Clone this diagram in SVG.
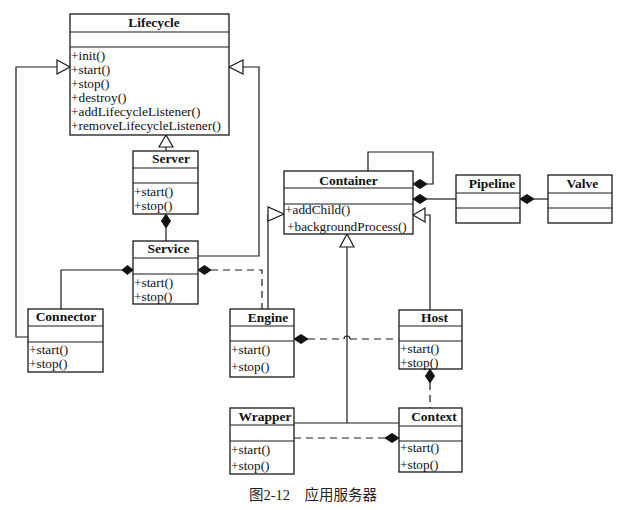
<svg xmlns="http://www.w3.org/2000/svg" width="628" height="510" viewBox="0 0 628 510">
<style>
.box{fill:#fff;stroke:#1a1a1a;stroke-width:1.3}
.ln{fill:none;stroke:#1a1a1a;stroke-width:1.2}
.ds{fill:none;stroke:#1a1a1a;stroke-width:1.2;stroke-dasharray:7 5}
.tri{fill:#fff;stroke:#1a1a1a;stroke-width:1.2}
.dia{fill:#111;stroke:#111;stroke-width:1}
.t{font-family:"Liberation Serif","Times New Roman",serif;font-size:13.5px;font-weight:bold;fill:#111;text-anchor:middle}
.m{font-family:"Liberation Serif","Times New Roman",serif;font-size:13.3px;fill:#111}
.cap{font-family:"Liberation Serif","Noto Sans CJK SC",serif;font-size:14.5px;fill:#222}
</style>
<rect width="628" height="510" fill="#fff"/>
<g id="connectors">
  <!-- Connector -> Lifecycle -->
  <polyline class="ln" points="28,337 16,337 16,67 57,67"/>
  <polygon class="tri" points="70,67 57,60 57,74"/>
  <!-- Service -> Lifecycle -->
  <polyline class="ln" points="198,256 259,256 259,67 243,67"/>
  <polygon class="tri" points="229,67 243,60 243,74"/>
  <!-- Server -> Lifecycle -->
  <line class="ln" x1="166" y1="147" x2="166" y2="151"/>
  <polygon class="tri" points="166,135 159,147 173,147"/>
  <!-- Server <>- Service -->
  <line class="ln" x1="166" y1="228" x2="166" y2="241"/>
  <polygon class="dia" points="166,214 170.5,221 166,228 161.5,221"/>
  <!-- Service <>- Connector -->
  <polyline class="ln" points="122,270 61,270 61,309"/>
  <polygon class="dia" points="133,270 127.5,265.5 122,270 127.5,274.5"/>
  <!-- Service <>- - Engine -->
  <polyline class="ds" points="211,270 262,270 262,309"/>
  <polygon class="dia" points="198,270 204.5,265.5 211,270 204.5,274.5"/>
  <!-- Engine -> Container -->
  <line class="ln" x1="268" y1="214" x2="268" y2="309"/>
  <polygon class="tri" points="284,214 268,207 268,221"/>
  <!-- Host -> Container -->
  <polyline class="ln" points="425,215 430,215 430,310"/>
  <polygon class="tri" points="413,215 425,208 425,222"/>
  <!-- Wrapper/Context -> Container -->
  <line class="ln" x1="347" y1="247" x2="347" y2="423"/>
  <line class="ln" x1="294" y1="423" x2="399" y2="423"/>
  <polygon class="tri" points="347,234 340,247 354,247"/>
  <!-- Container self loop -->
  <polyline class="ln" points="368,171 368,152 433,152 433,184 427,184"/>
  <polygon class="dia" points="413,184 420,179.5 427,184 420,188.5"/>
  <!-- Container <>- Pipeline -->
  <line class="ln" x1="427" y1="199" x2="456" y2="199"/>
  <polygon class="dia" points="413,199 420,194.5 427,199 420,203.5"/>
  <!-- Pipeline <>- Valve -->
  <line class="ln" x1="534" y1="199" x2="548" y2="199"/>
  <polygon class="dia" points="520,199 527,194.5 534,199 527,203.5"/>
  <!-- Engine <>- - Host -->
  <path class="ds" d="M308,339 H344"/>
  <path class="ln" d="M344,339 A3,3 0 0 1 350,339"/>
  <path class="ds" d="M350,339 H399"/>
  <polygon class="dia" points="294,339 301,334.5 308,339 301,343.5"/>
  <!-- Host <>- - Context -->
  <line class="ds" x1="430" y1="383" x2="430" y2="408"/>
  <polygon class="dia" points="430,369 434.5,376 430,383 425.5,376"/>
  <!-- Context <>- - Wrapper -->
  <line class="ds" x1="294" y1="438" x2="385" y2="438"/>
  <polygon class="dia" points="399,438 392,433.5 385,438 392,442.5"/>
</g>
<g id="Lifecycle">
  <rect class="box" x="70" y="14" width="159" height="121"/>
  <line class="ln" x1="70" y1="32" x2="229" y2="32"/>
  <line class="ln" x1="70" y1="47" x2="229" y2="47"/>
  <text class="t" x="154" y="27">Lifecycle</text>
  <text class="m" x="71" y="59.5">+init()</text>
  <text class="m" x="71" y="73.5">+start()</text>
  <text class="m" x="71" y="87.5">+stop()</text>
  <text class="m" x="71" y="101.5">+destroy()</text>
  <text class="m" x="71" y="115.5">+addLifecycleListener()</text>
  <text class="m" x="71" y="129.5">+removeLifecycleListener()</text>
</g>
<g id="Server">
  <rect class="box" x="133" y="151" width="65" height="63"/>
  <line class="ln" x1="133" y1="168" x2="198" y2="168"/>
  <line class="ln" x1="133" y1="183" x2="198" y2="183"/>
  <text class="t" x="171" y="163">Server</text>
  <text class="m" x="134" y="195.5">+start()</text>
  <text class="m" x="134" y="209.5">+stop()</text>
</g>
<g id="Service">
  <rect class="box" x="133" y="241" width="65" height="63"/>
  <line class="ln" x1="133" y1="258" x2="198" y2="258"/>
  <line class="ln" x1="133" y1="274" x2="198" y2="274"/>
  <text class="t" x="168.5" y="253">Service</text>
  <text class="m" x="134" y="286.5">+start()</text>
  <text class="m" x="134" y="300.5">+stop()</text>
</g>
<g id="Connector">
  <rect class="box" x="28" y="309" width="75" height="63"/>
  <line class="ln" x1="28" y1="326" x2="103" y2="326"/>
  <line class="ln" x1="28" y1="342" x2="103" y2="342"/>
  <text class="t" x="66" y="321">Connector</text>
  <text class="m" x="29" y="354">+start()</text>
  <text class="m" x="29" y="368">+stop()</text>
</g>
<g id="Container">
  <rect class="box" x="284" y="171" width="129" height="63"/>
  <line class="ln" x1="284" y1="188" x2="413" y2="188"/>
  <line class="ln" x1="284" y1="204" x2="413" y2="204"/>
  <text class="t" x="348.5" y="185">Container</text>
  <text class="m" x="285" y="214">+addChild()</text>
  <text class="m" x="287" y="231">+backgroundProcess()</text>
</g>
<g id="Pipeline">
  <rect class="box" x="456" y="175" width="64" height="48"/>
  <line class="ln" x1="456" y1="193" x2="520" y2="193"/>
  <line class="ln" x1="456" y1="208" x2="520" y2="208"/>
  <text class="t" x="492" y="188">Pipeline</text>
</g>
<g id="Valve">
  <rect class="box" x="548" y="175" width="64" height="48"/>
  <line class="ln" x1="548" y1="193" x2="612" y2="193"/>
  <line class="ln" x1="548" y1="208" x2="612" y2="208"/>
  <text class="t" x="582.5" y="188">Valve</text>
</g>
<g id="Engine">
  <rect class="box" x="230" y="309" width="64" height="68"/>
  <line class="ln" x1="230" y1="326" x2="294" y2="326"/>
  <line class="ln" x1="230" y1="341" x2="294" y2="341"/>
  <text class="t" x="268" y="322">Engine</text>
  <text class="m" x="231" y="353.5">+start()</text>
  <text class="m" x="231" y="370.5">+stop()</text>
</g>
<g id="Host">
  <rect class="box" x="399" y="310" width="63" height="59"/>
  <line class="ln" x1="399" y1="326" x2="462" y2="326"/>
  <line class="ln" x1="399" y1="341" x2="462" y2="341"/>
  <text class="t" x="434.5" y="322">Host</text>
  <text class="m" x="400" y="352.5">+start()</text>
  <text class="m" x="400" y="367">+stop()</text>
</g>
<g id="Wrapper">
  <rect class="box" x="230" y="408" width="64" height="66"/>
  <line class="ln" x1="230" y1="425" x2="294" y2="425"/>
  <line class="ln" x1="230" y1="441" x2="294" y2="441"/>
  <text class="t" x="265" y="421">Wrapper</text>
  <text class="m" x="231" y="453.5">+start()</text>
  <text class="m" x="231" y="469.5">+stop()</text>
</g>
<g id="Context">
  <rect class="box" x="399" y="408" width="63" height="64"/>
  <line class="ln" x1="399" y1="426" x2="462" y2="426"/>
  <line class="ln" x1="399" y1="441" x2="462" y2="441"/>
  <text class="t" x="434" y="421">Context</text>
  <text class="m" x="400" y="451.5">+start()</text>
  <text class="m" x="400" y="469">+stop()</text>
</g>
<text class="cap" x="249" y="500">图2-12　应用服务器</text>
</svg>
